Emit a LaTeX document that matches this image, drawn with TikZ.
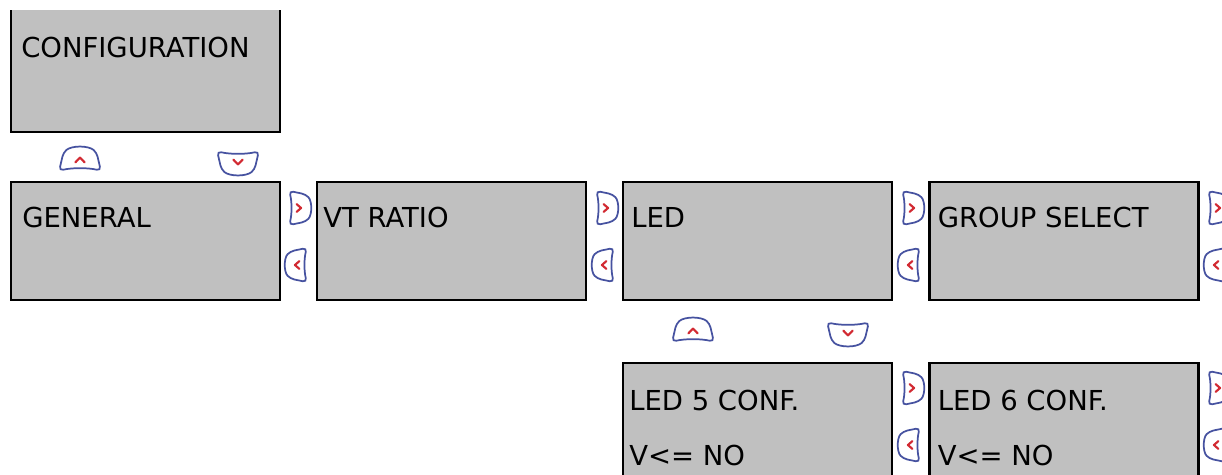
\documentclass[tikz,border=0pt]{standalone}
\usepackage{fontspec}
\setmainfont{DejaVu Sans}
\usetikzlibrary{calc}
\definecolor{boxgray}{RGB}{192,192,192}
\definecolor{btnblue}{RGB}{70,82,160}
\definecolor{btnred}{RGB}{210,42,50}
\tikzset{
  panel/.style={draw=black, line width=2pt, fill=boxgray, inner sep=0pt, outer sep=0pt,
    minimum width=201.75pt},
  openpanel/.style={fill=boxgray, inner sep=0pt, outer sep=0pt, minimum width=201.75pt},
  lbl/.style={font=\fontsize{20.6}{24}\selectfont, inner sep=0pt, anchor=base west},
  keyline/.style={draw=btnblue, line width=1.3pt, rounded corners=3pt, fill=white},
  keychev/.style={draw=btnred, line width=1.6pt, line cap=round, line join=round},
}
\newcommand\navkey[3]{%
  \begin{scope}[shift={#1}, x={#2}, y={#3}]
    \path[keyline] (-20,-8) .. controls (-7,-5.5) and (7,-5.5) .. (20,-8) -- (16,7)
      .. controls (8,13) and (-8,13) .. (-16,7) -- cycle;
    \path[keychev] (-4.5,-1.2) -- (0,2.8) -- (4.5,-1.2);
  \end{scope}}
\newcommand\keyup[1]{\navkey{#1}{(0.78pt,0)}{(0,0.9pt)}}
\newcommand\keydown[1]{\navkey{#1}{(0.78pt,0)}{(0,-0.9pt)}}
\newcommand\keyright[1]{\navkey{#1}{(0,0.64pt)}{(0.82pt,0)}}
\newcommand\keyleft[1]{\navkey{#1}{(0,0.64pt)}{(-0.82pt,0)}}
\begin{document}
\begin{tikzpicture}[x={(0.75pt,0)}, y={(0,-0.75pt)}]
\useasboundingbox (0,0) rectangle (1222,475);
\clip (0,0) rectangle (1222,475);
\fill[white] (0,0) rectangle (1222,475);

% top box (open at the top)
\node[openpanel, minimum height=91.5pt] (config) at (145.5,71) {};
\draw[line width=2pt] (config.north west) |- (config.south east) -- (config.north east);
\node[lbl] (tconfig) at ($(config.north west)+(10,47)$) {CONFIGURATION};

\keyup{(80,161)}
\keydown{(238,161)}

% second row
\node[panel, minimum height=88.5pt] (general) at (145.5,241) {};
\node[panel, minimum height=88.5pt] (vt) at (451.5,241) {};
\node[panel, minimum height=88.5pt] (led) at (757.5,241) {};
\node[panel, minimum height=88.5pt] (group) at (1064,241) {};
\node[lbl] (tgeneral) at ($(general.north west)+(11,45)$) {GENERAL};
\node[lbl] (tvt) at ($(vt.north west)+(6,45)$) {VT RATIO};
\node[lbl] (tled) at ($(led.north west)+(8,45)$) {LED};
\node[lbl] (tgroup) at ($(group.north west)+(8,45)$) {GROUP SELECT};

\keyright{(298,208)} \keyleft{(298,265)}
\keyright{(605,208)} \keyleft{(605,265)}
\keyright{(911,208)} \keyleft{(911,265)}
\keyright{(1217,208)} \keyleft{(1217,265)}

\keyup{(693,332)}
\keydown{(848,332)}

% third row
\node[panel, minimum height=102.75pt] (led5) at (757.5,431.5) {};
\node[panel, minimum height=102.75pt] (led6) at (1064,431.5) {};
\node[lbl] (tled5) at ($(led5.north west)+(6,47)$) {LED 5 CONF.};
\node[lbl] (tled5b) at ($(led5.north west)+(6,102)$) {V<= NO};
\node[lbl] (tled6) at ($(led6.north west)+(8,47)$) {LED 6 CONF.};
\node[lbl] (tled6b) at ($(led6.north west)+(8,102)$) {V<= NO};

\keyright{(911,388)} \keyleft{(911,445)}
\keyright{(1217,388)} \keyleft{(1217,445)}
\end{tikzpicture}
\end{document}
